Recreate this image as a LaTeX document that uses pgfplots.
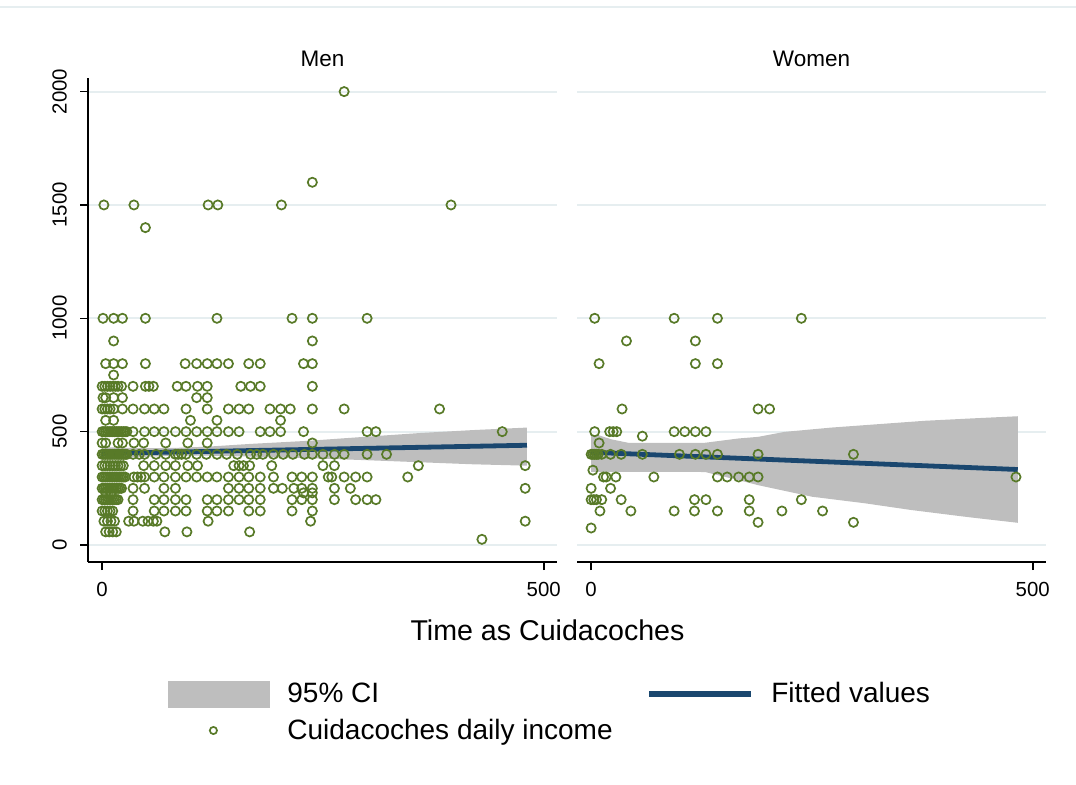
\documentclass[border=0pt]{standalone}
\usepackage{fontspec}
\setmainfont{Liberation Sans}
\usepackage{pgfplots}
\pgfplotsset{compat=1.18}

\definecolor{mkgreen}{RGB}{88,122,40}
\definecolor{fitblue}{RGB}{26,71,111}
\definecolor{cigray}{RGB}{190,190,190}
\definecolor{gridc}{RGB}{230,238,240}

\pgfplotsset{
  panel/.style={
    scale only axis, anchor=south west,
    width=234.5pt, height=242pt,
    xmin=-16, xmax=515, ymin=-75, ymax=2060,
    axis x line*=bottom, axis y line*=left,
    axis line style={black, line width=1pt, -},
    xtick={0,500}, ytick={0,500,1000,1500,2000},
    tick align=outside, major tick length=4pt,
    every tick/.style={black, line width=0.75pt},
    ymajorgrids, major grid style={gridc, line width=1pt},
    tick label style={font=\fontsize{10.2}{12}\selectfont},
    /pgf/number format/assume math mode=true,
    /pgf/number format/1000 sep={},
    scaled ticks=false,
    xticklabel style={yshift=-2.5pt},
    yticklabel style={rotate=90, anchor=south, yshift=3pt},
    title style={font=\fontsize{11.25}{13}\selectfont, at={(0.5,1)}, anchor=base, yshift=0pt},
  },
  band/.style={fill=cigray, draw=none},
  fit/.style={fitblue, line width=2.4pt},
  pts/.style={only marks, mark=o, mark size=2.3pt, mkgreen, mark options={line width=0.85pt}},
}

\begin{document}
\begin{tikzpicture}
\useasboundingbox (0,0) rectangle (538pt,392pt);
\draw[gridc, line width=1pt] (0pt,388.5pt) -- (538pt,388.5pt);

% Men
\begin{axis}[panel, at={(44pt,111pt)}, title={Men},
  legend columns=2, legend cell align=left,
  legend style={draw=none, fill=none, inner sep=0pt,
    at={(axis description cs:0.1706,-0.24)}, anchor=north west,
    font=\fontsize{14}{16}\selectfont,
    column sep=6.5pt, row sep=2.5pt,
    /tikz/every even column/.append style={column sep=15pt}},
]
\addplot[band, legend image code/.code={\fill[cigray] (0pt,-6.75pt) rectangle (51pt,6.75pt);}]
  coordinates {
  (0,432) (40,427) (81,428) (120,434) (168,446) (235,460) (300,478) (360,494) (420,507) (481,518)
  (481,350) (420,356) (360,365) (300,374) (235,383) (168,390) (120,394) (81,394) (40,388) (0,380)
  };
\addlegendentry{95\% CI}
\addplot[fit, legend image code/.code={\draw[fitblue, line width=2.8pt] (0pt,0pt) -- (51pt,0pt);}]
  coordinates {(0,404) (481,440)};
\addlegendentry{Fitted values}
\addplot[pts, legend image code/.code={\draw[mkgreen, line width=0.7pt] plot[mark=o, only marks, mark size=1.8pt] coordinates {(22.5pt,0pt)};}]
  coordinates {
  (274,2000) (238,1600)
  (2,1500) (36,1500) (120,1500) (131,1500) (203,1500) (395,1500)
  (49,1400)
  (1,1000) (13,1000) (23,1000) (49,1000) (130,1000) (215,1000) (238,1000) (300,1000)
  (13,900) (238,900)
  (4,800) (13,800) (23,800) (49,800) (94,800) (107,800) (119,800) (130,800) (143,800) (166,800) (179,800) (228,800) (238,800)
  (13,750)
  (0,700) (3,700) (6,700) (9,700) (12,700) (15,700) (18,700) (22,700) (35,700) (49,700) (53,700) (58,700)
  (85,700) (95,700) (108,700) (119,700) (157,700) (168,700) (179,700) (238,700)
  (1,650) (4,650) (13,650) (23,650) (107,650) (119,650)
  (0,600) (3,600) (6,600) (9,600) (13,600) (23,600) (35,600) (48,600) (59,600) (70,600) (95,600) (119,600)
  (143,600) (155,600) (166,600) (190,600) (202,600) (213,600) (238,600) (274,600) (382,600)
  (4,550) (13,550) (100,550) (130,550) (202,550)
  (0,500) (2,500) (4,500) (6,500) (8,500) (10,500) (12,500) (14,500) (16,500) (18,500) (20,500) (22,500)
  (24,500) (26,500) (28,500) (35,500) (48,500) (59,500) (70,500) (83,500) (95,500) (107,500) (119,500)
  (130,500) (143,500) (155,500) (179,500) (190,500) (202,500) (228,500) (300,500) (310,500) (453,500)
  (0,450) (4,450) (18,450) (23,450) (36,450) (47,450) (72,450) (97,450) (119,450) (238,450)
  (0,400) (2,400) (4,400) (6,400) (8,400) (10,400) (12,400) (14,400) (16,400) (18,400) (20,400) (22,400)
  (24,400) (26,400) (28,400) (35,400) (42,400) (48,400) (61,400) (72,400) (83,400) (86,400) (90,400) (95,400)
  (107,400) (118,400) (130,400) (141,400) (153,400) (168,400) (175,400) (182,400) (194,400) (205,400)
  (216,400) (229,400) (238,400) (250,400) (263,400) (274,400) (300,400) (322,400)
  (0,350) (3,350) (6,350) (9,350) (12,350) (15,350) (18,350) (21,350) (24,350) (47,350) (59,350) (72,350)
  (83,350) (97,350) (108,350) (149,350) (155,350) (160,350) (167,350) (192,350) (250,350) (263,350) (358,350) (479,350)
  (0,300) (2,300) (4,300) (6,300) (8,300) (10,300) (12,300) (14,300) (16,300) (18,300) (20,300) (22,300)
  (24,300) (26,300) (36,300) (40,300) (44,300) (48,300) (59,300) (70,300) (83,300) (95,300) (107,300)
  (119,300) (130,300) (143,300) (155,300) (166,300) (179,300) (194,300) (215,300) (226,300) (238,300)
  (256,300) (260,300) (274,300) (287,300) (300,300) (346,300)
  (0,250) (2,250) (4,250) (6,250) (8,250) (10,250) (12,250) (14,250) (16,250) (18,250) (20,250) (22,250)
  (35,250) (48,250) (70,250) (83,250) (143,250) (155,250) (166,250) (179,250) (194,250) (204,250)
  (217,250) (226,250) (238,250) (263,250) (281,250) (479,250)
  (4,230) (10,230) (228,230) (238,230)
  (0,200) (2,200) (4,200) (6,200) (8,200) (10,200) (12,200) (14,200) (16,200) (18,200) (35,200) (59,200)
  (70,200) (83,200) (95,200) (119,200) (130,200) (143,200) (155,200) (166,200) (179,200) (215,200)
  (226,200) (238,200) (263,200) (287,200) (300,200) (310,200)
  (0,150) (3,150) (6,150) (9,150) (12,150) (35,150) (59,150) (70,150) (83,150) (95,150) (119,150)
  (130,150) (143,150) (166,150) (179,150) (215,150) (238,150)
  (2,105) (6,105) (10,105) (14,105) (30,105) (36,105) (46,105) (52,105) (58,105) (62,105) (120,105) (236,105) (479,105)
  (4,58) (8,58) (12,58) (16,58) (71,58) (96,58) (167,58)
  (430,25)
  };
\addlegendentry{Cuidacoches daily income}
\end{axis}

% Women
\begin{axis}[panel, at={(288.5pt,111pt)}, title={Women},
  y axis line style={draw=none}, ytick style={draw=none}, yticklabels={}]
\addplot[band] coordinates {
  (0,485) (8,485) (23,466) (42,451) (129,451) (167,470) (189,477) (219,499) (272,518) (325,533) (378,548) (429,558) (483,568)
  (483,98) (429,122) (363,154) (310,184) (250,213) (189,264) (167,286) (129,322) (0,323)
  };
\addplot[fit] coordinates {(0,409) (483,333)};
\addplot[pts] coordinates {
  (4,1000) (94,1000) (143,1000) (238,1000)
  (40,900) (118,900)
  (9,800) (118,800) (143,800)
  (35,600) (189,600) (202,600)
  (4,500) (21,500) (25,500) (29,500) (94,500) (106,500) (118,500) (130,500)
  (58,480) (9,450)
  (0,400) (2,400) (4,400) (6,400) (8,400) (12,400) (22,400) (34,400) (58,400) (100,400) (118,400)
  (130,400) (143,400) (189,400) (297,400)
  (2,330)
  (14,300) (17,300) (28,300) (71,300) (143,300) (154,300) (167,300) (179,300) (189,300) (481,300)
  (0,250) (22,250)
  (0,200) (3,200) (6,200) (12,200) (34,200) (117,200) (130,200) (179,200) (238,200)
  (10,150) (45,150) (94,150) (117,150) (143,150) (179,150) (216,150) (262,150)
  (189,100) (297,100)
  (0,75)
  };
\end{axis}

\node[anchor=base, font=\fontsize{14.3}{17}\selectfont] at (273.75pt,72pt) {Time as Cuidacoches};
\end{tikzpicture}
\end{document}
